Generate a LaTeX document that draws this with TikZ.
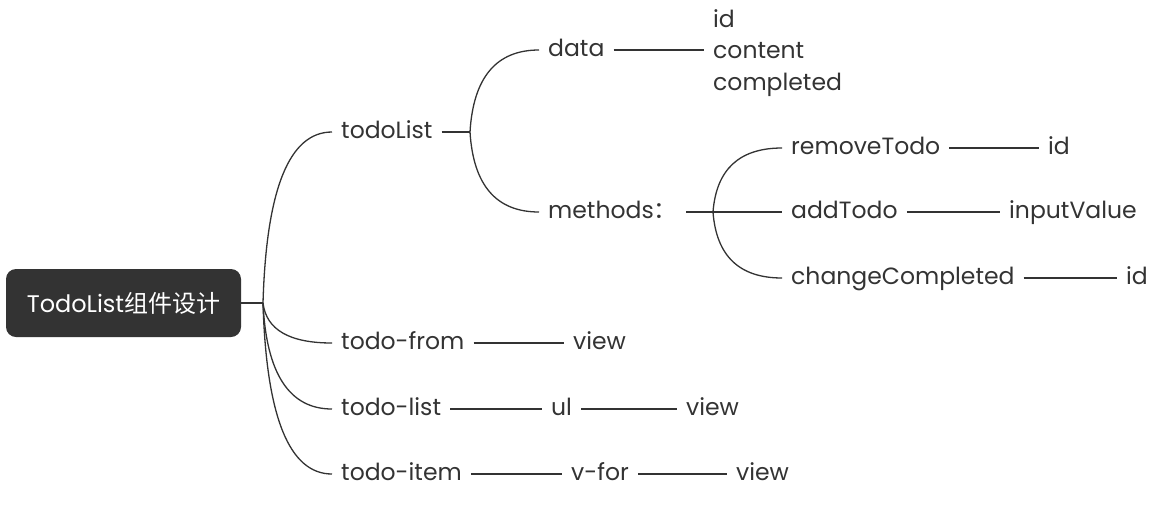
\documentclass[tikz,border=0pt]{standalone}
\usepackage{fontspec}
\setmainfont{Poppins}
\newfontfamily\cjk{Noto Sans CJK SC}
\usetikzlibrary{calc}
\definecolor{ink}{HTML}{333333}
\tikzset{
  lbl/.style={anchor=west, inner xsep=9pt, inner ysep=0pt, text=ink,
    text height=17pt, text depth=5pt,
    font=\fontsize{23.5}{26}\selectfont},
  multi/.style={anchor=west, inner xsep=9pt, inner ysep=0pt, text=ink, align=left,
    font=\fontsize{23.5}{31.5}\selectfont},
  conn/.style={draw=ink, line width=1.3pt},
  curve/.style={to path={let \p1=(\tikztostart), \p2=(\tikztotarget) in
    .. controls (\x1+3.3pt,{\y1+0.667*(\y2-\y1)}) and ({\x2+0.667*(\x1+5pt-\x2)},\y2) .. (\tikztotarget)}},
  rootbox/.style={fill=ink, text=white, rounded corners=10pt, minimum width=235pt,
    minimum height=68pt, inner sep=0pt, font=\fontsize{24}{26}\selectfont}
}
\begin{document}
\begin{tikzpicture}[x=1pt,y=-1pt]
\useasboundingbox (0,0) rectangle (1150,509);
% root
\node[rootbox] (root) at (123.5,303) {TodoList{\cjk 组件设计}};
\coordinate (b0) at (263,303);
\coordinate (b1) at (470,132);
\coordinate (b2) at (713,212);
% level 1
\node[lbl] (todoList) at (332,132) {todoList};
\node[lbl] (todofrom) at (332,343) {todo-from};
\node[lbl] (todolist) at (332,409) {todo-list};
\node[lbl] (todoitem) at (332,474) {todo-item};
% level 2
\node[lbl] (data) at (539,50) {data};
\node[lbl] (methods) at (539,212) {methods{\cjk ：}};
\node[multi] (fields) at (704,53) {id\\content\\completed};
\node[lbl] (remove) at (782,148) {removeTodo};
\node[lbl] (add) at (782,212) {addTodo};
\node[lbl] (change) at (782,278) {changeCompleted};
\node[lbl] (id1) at (1039,148) {id};
\node[lbl] (input) at (1000,212) {inputValue};
\node[lbl] (id2) at (1117,278) {id};
\node[lbl] (view1) at (564,343) {view};
\node[lbl] (ul) at (542,409) {ul};
\node[lbl] (view2) at (677,409) {view};
\node[lbl] (vfor) at (562,474) {v-for};
\node[lbl] (view3) at (727,474) {view};
% connectors
\draw[conn] (root.east) -- (b0);
\draw[conn] (b0) to[curve] (todoList.west);
\draw[conn] (b0) to[curve] (todofrom.west);
\draw[conn] (b0) to[curve] (todolist.west);
\draw[conn] (b0) to[curve] (todoitem.west);
\draw[conn] (todoList.east) -- (b1);
\draw[conn] (b1) to[curve] (data.west);
\draw[conn] (b1) to[curve] (methods.west);
\draw[conn] (data.east) -- (data.east -| fields.west);
\draw[conn] (methods.east) -- (b2);
\draw[conn] (b2) to[curve] (remove.west);
\draw[conn] (b2) -- (add.west);
\draw[conn] (b2) to[curve] (change.west);
\draw[conn] (remove.east) -- (id1.west);
\draw[conn] (add.east) -- (input.west);
\draw[conn] (change.east) -- (id2.west);
\draw[conn] (todofrom.east) -- (view1.west);
\draw[conn] (todolist.east) -- (ul.west);
\draw[conn] (ul.east) -- (view2.west);
\draw[conn] (todoitem.east) -- (vfor.west);
\draw[conn] (vfor.east) -- (view3.west);
\end{tikzpicture}
\end{document}
